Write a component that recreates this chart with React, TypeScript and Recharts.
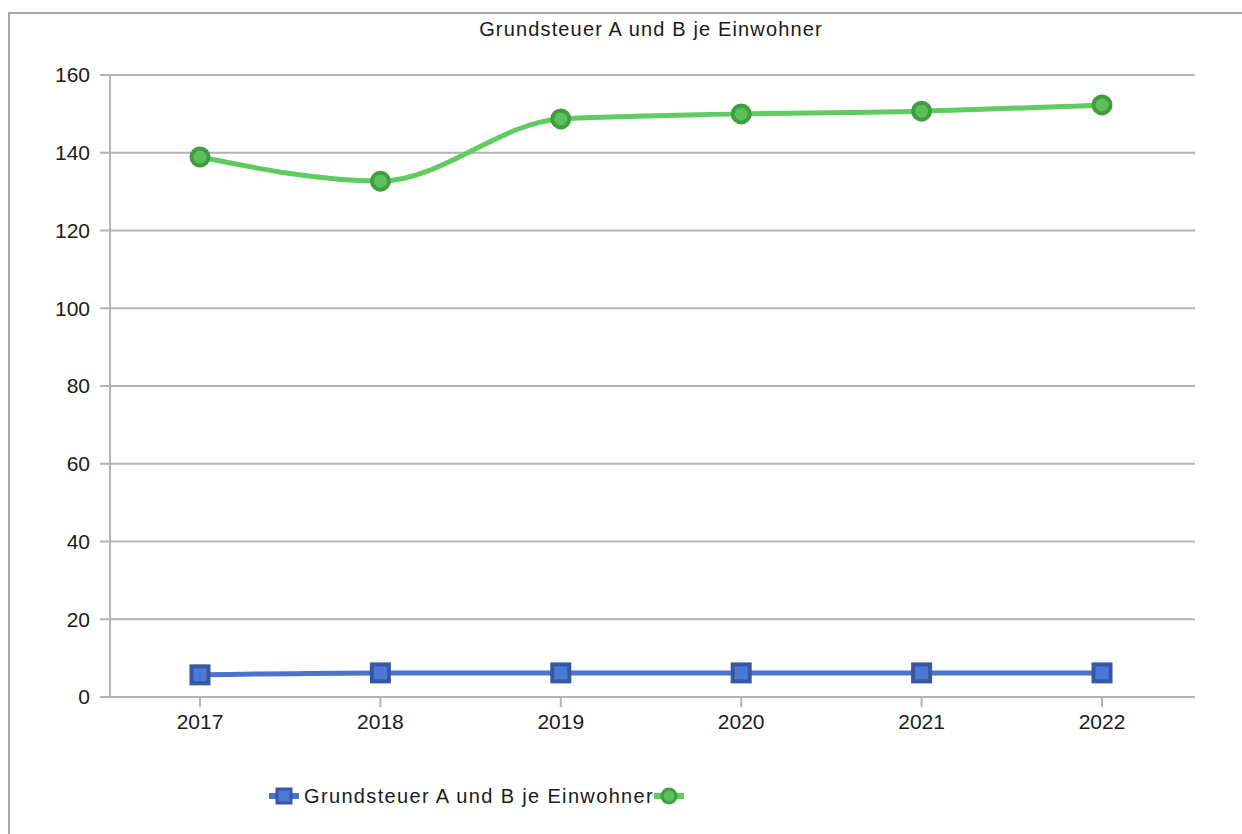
import { LineChart, Line, XAxis, YAxis, CartesianGrid } from 'recharts';

const years = ['2017', '2018', '2019', '2020', '2021', '2022'];
const grundsteuerAB = [5.7, 6.2, 6.2, 6.2, 6.2, 6.2];
const zweiteReihe = [138.9, 132.7, 148.7, 150.0, 150.7, 152.3];
const yTicks = [0, 20, 40, 60, 80, 100, 120, 140, 160];
const seriesNames = ['Grundsteuer A und B je Einwohner', ''];
const title = 'Grundsteuer A und B je Einwohner';

const data = years.map((year, i) => ({
  year,
  a: grundsteuerAB[i],
  b: zweiteReihe[i],
}));

const FONT = '"Liberation Sans", Arial, sans-serif';
const GRID = '#b3b3b3';
const BLUE_LINE = '#4a72cf';
const BLUE_FILL = '#4a7ad6';
const BLUE_EDGE = '#3757a5';
const GREEN_LINE = '#5fcc5f';
const GREEN_FILL = '#5cbf5c';
const GREEN_EDGE = '#3f9e3f';

const SquareDot = (props: any) => {
  const { cx, cy, index } = props;
  if (cx == null || cy == null) return null;
  return (
    <rect
      key={`sq-${index}`}
      x={cx - 8.5}
      y={cy - 8.5}
      width={17}
      height={17}
      fill={BLUE_FILL}
      stroke={BLUE_EDGE}
      strokeWidth={4}
    />
  );
};

const LegendIcon = ({ kind }: { kind: 'square' | 'circle' }) => (
  <svg width={30} height={20} style={{ display: 'block' }}>
    <line x1={0} y1={10} x2={30} y2={10} stroke={kind === 'square' ? BLUE_LINE : GREEN_LINE} strokeWidth={6} />
    {kind === 'square' ? (
      <rect x={8} y={3} width={14} height={14} fill={BLUE_FILL} stroke={BLUE_EDGE} strokeWidth={3} />
    ) : (
      <circle cx={15} cy={10} r={7} fill={GREEN_FILL} stroke={GREEN_EDGE} strokeWidth={3} />
    )}
  </svg>
);

export default function App() {
  const tickStyle = { fontSize: 21, fill: '#1a1a1a', fontFamily: FONT };
  return (
    <div style={{ position: 'relative', width: 1242, height: 834, overflow: 'hidden', background: '#fff', fontFamily: FONT }}>
      <style>{'body{margin:0;overflow:hidden}'}</style>
      <div
        style={{
          position: 'absolute',
          left: 8,
          top: 12,
          width: 1260,
          height: 850,
          border: '2px solid #a8a8a8',
        }}
      />
      <div
        style={{
          position: 'absolute',
          left: 0,
          width: 1302,
          top: 17,
          textAlign: 'center',
          fontSize: 20,
          letterSpacing: 1.15,
          color: '#1a1a1a',
          lineHeight: '24px',
        }}
      >
        {title}
      </div>
      <div style={{ position: 'absolute', left: 0, top: 0 }}>
        <LineChart width={1242} height={834} data={data} margin={{ top: 75, right: 47, left: 0, bottom: 107 }}>
          <CartesianGrid yAxisId="left" vertical={false} stroke={GRID} strokeWidth={2} />
          <XAxis
            dataKey="year"
            padding={{ left: 90, right: 93 }}
            height={30}
            tickSize={10}
            tickMargin={7}
            tick={tickStyle}
            axisLine={{ stroke: GRID, strokeWidth: 2 }}
            tickLine={{ stroke: GRID, strokeWidth: 2 }}
          />
          <YAxis
            yAxisId="left"
            width={110}
            domain={[0, 160]}
            ticks={yTicks}
            interval={0}
            tickSize={10}
            tickMargin={10}
            tick={tickStyle}
            axisLine={{ stroke: GRID, strokeWidth: 2 }}
            tickLine={{ stroke: GRID, strokeWidth: 2 }}
          />
          <YAxis
            yAxisId="right"
            orientation="right"
            width={0}
            domain={[0, 160]}
            tick={false}
            tickLine={false}
            axisLine={{ stroke: GRID, strokeWidth: 2 }}
          />
          <Line
            yAxisId="left"
            type="monotone"
            dataKey="a"
            name={seriesNames[0]}
            stroke={BLUE_LINE}
            strokeWidth={5}
            dot={SquareDot}
            activeDot={false}
            isAnimationActive={false}
          />
          <Line
            yAxisId="left"
            type="monotone"
            dataKey="b"
            name={seriesNames[1]}
            stroke={GREEN_LINE}
            strokeWidth={5}
            dot={{ r: 8.5, fill: GREEN_FILL, stroke: GREEN_EDGE, strokeWidth: 4 }}
            activeDot={false}
            isAnimationActive={false}
          />
        </LineChart>
      </div>
      <div
        style={{
          position: 'absolute',
          left: 269,
          top: 786,
          display: 'flex',
          alignItems: 'center',
          fontSize: 20,
          letterSpacing: 1.35,
          color: '#1a1a1a',
          lineHeight: '20px',
          whiteSpace: 'nowrap',
        }}
      >
        <LegendIcon kind="square" />
        <span style={{ marginLeft: 5 }}>{seriesNames[0]}</span>
        <LegendIcon kind="circle" />
        {seriesNames[1] && <span>{seriesNames[1]}</span>}
      </div>
    </div>
  );
}
